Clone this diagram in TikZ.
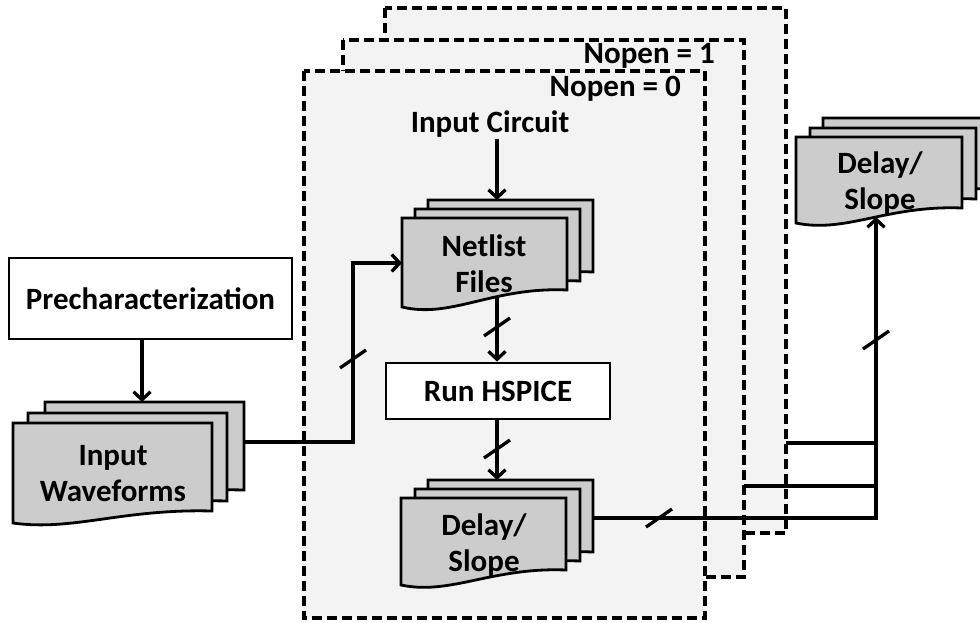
\documentclass[tikz,border=0pt]{standalone}
\usepackage{fontspec}
\setmainfont{Carlito}
\usetikzlibrary{arrows.meta,calc}

\definecolor{docgray}{HTML}{CCCCCC}
\definecolor{panelgray}{HTML}{F3F3F3}

% one document sheet: left x, top y, right x, bottom y at left, bottom y at right
\newcommand{\docsheet}[5]{%
  \path[docsheet] (#1,#2) -- (#3,#2) -- (#3,#5)
    .. controls ({#1+0.55*(#3-#1)},{#5-0.2*(#4-#5)}) and ({#1+0.3*(#3-#1)},{#4+0.7*(#4-#5)}) .. (#1,#4) -- cycle;}
% a stack of three sheets; args 6-9 are the shifts of the two rear sheets
\newcommand{\docstack}[9]{%
  \begin{scope}[shift={(#8,#9)}]\docsheet{#1}{#2}{#3}{#4}{#5}\end{scope}
  \begin{scope}[shift={(#6,#7)}]\docsheet{#1}{#2}{#3}{#4}{#5}\end{scope}
  \docsheet{#1}{#2}{#3}{#4}{#5}}
% bus mark across a wire
\newcommand{\slashmark}[1]{\draw[wire] ($(#1)+(-13,9)$) -- ($(#1)+(13,-9)$);}

\begin{document}
\begin{tikzpicture}[x=1pt,y=-1pt,
  docsheet/.style={fill=docgray,draw=black,line width=2.8pt},
  panel/.style={fill=panelgray,draw=black,line width=3.2pt,dash pattern=on 10pt off 5pt},
  lbl/.style={font=\fontsize{31}{36}\selectfont\bfseries,align=center,inner sep=2pt},
  boxnode/.style={lbl,draw=black,fill=white,line width=2.8pt},
  wire/.style={line width=3.3pt},
  arr/.style={wire,-{Straight Barb[length=8pt,width=17pt]}}]
\useasboundingbox (0,0) rectangle (980,622);
\clip (0,0) rectangle (980,622);
\fill[white] (0,0) rectangle (980,622);

% sweep layers
\draw[panel] (385,8) rectangle (786,533);
\draw[panel] (343,40) rectangle (744,577);
\draw[panel] (304,71) rectangle (705,618);
\node[lbl,anchor=base east] (nopen1) at (717,63) {Nopen = 1};
\node[lbl,anchor=base east] (nopen0) at (683,96) {Nopen = 0};
\node[lbl,anchor=base] (circuit) at (490,132) {Input Circuit};

% boxes
\node[boxnode,minimum width=283pt,minimum height=81pt] (prechar) at (150.5,298.5) {Precharacterization};
\node[boxnode,minimum width=224pt,minimum height=56pt] (hspice) at (498,391) {Run HSPICE};

% document stacks
\docstack{13}{423}{212}{523}{511}{15}{-10}{32}{-21}
\node[lbl] (waves) at (113,474) {Input\\Waveforms};
\docstack{402}{218}{567}{307}{290}{13}{-9}{26}{-18}
\node[lbl] (netlist) at (484,264) {Netlist\\Files};
\docstack{401}{498}{566}{585}{570}{14}{-9}{27}{-18}
\node[lbl] (delayin) at (484,545) {Delay/\\Slope};
\docstack{796}{137}{962}{223}{208}{14}{-9}{27}{-19}
\node[lbl] (delayout) at (880,183) {Delay/\\Slope};

% connection points
\coordinate (waves-top) at (142,402);
\coordinate (waves-out) at (245,442);
\coordinate (bend) at (353,442);
\coordinate (netlist-top) at (497,200);
\coordinate (netlist-in) at (402,263);
\coordinate (netlist-out) at (497,296);
\coordinate (delayin-top) at (497,480);
\coordinate (delayin-out) at (593,518);
\coordinate (delayout-in) at (876,217);
\coordinate (layer1-out) at (744,486);
\coordinate (layer2-out) at (786,443);
\coordinate (merge) at (876,518);

% connectors
\draw[arr] (circuit.south -| netlist-top) -- (netlist-top);
\draw[arr] (prechar.south -| waves-top) -- (waves-top);
\draw[arr] (waves-out) -- (bend) |- (netlist-in);
\draw[arr] (netlist-out) -- (hspice.north -| netlist-out);
\draw[arr] (hspice.south -| delayin-top) -- (delayin-top);
\draw[arr] (delayin-out) -- (merge) -- (delayout-in);
\draw[wire] (layer1-out) -- (layer1-out -| merge);
\draw[wire] (layer2-out) -- (layer2-out -| merge);

% bus marks
\coordinate (s1) at (353,359);
\coordinate (s2) at (497,327);
\coordinate (s3) at (497,449);
\coordinate (s4) at (659,518);
\coordinate (s5) at (876,340);
\slashmark{s1}
\slashmark{s2}
\slashmark{s3}
\slashmark{s4}
\slashmark{s5}
\end{tikzpicture}
\end{document}
